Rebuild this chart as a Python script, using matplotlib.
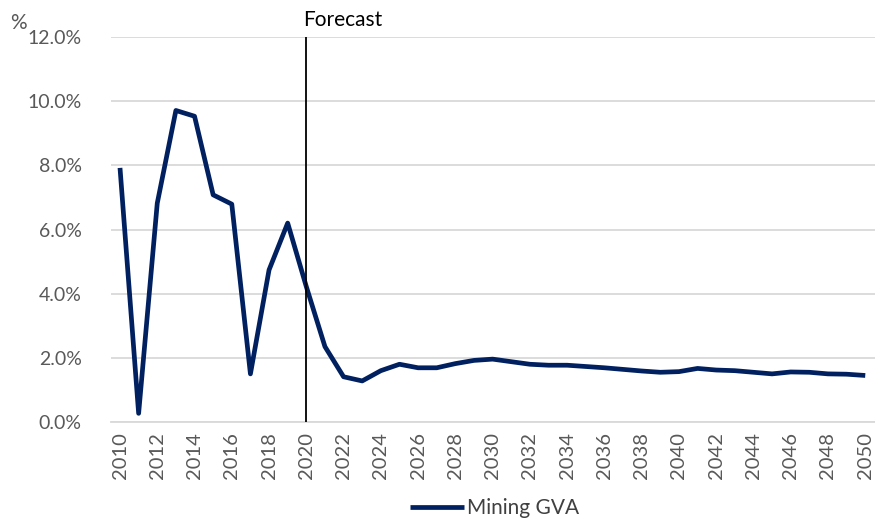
import matplotlib
matplotlib.use("Agg")
import matplotlib.pyplot as plt
from matplotlib.ticker import FuncFormatter

plt.rcParams['font.family'] = ['Lato', 'DejaVu Sans']

years = list(range(2010, 2051))
mining_gva = [7.92, 0.27, 6.82, 9.71, 9.53, 7.08, 6.79, 1.50, 4.74, 6.20,
              4.22, 2.35, 1.41, 1.28, 1.60, 1.80, 1.69, 1.69, 1.82, 1.92,
              1.96, 1.88, 1.80, 1.77, 1.77, 1.73, 1.69, 1.64, 1.59, 1.55,
              1.57, 1.67, 1.62, 1.60, 1.55, 1.50, 1.56, 1.55, 1.50, 1.49,
              1.45]
yticks = [0, 2, 4, 6, 8, 10, 12]
xtick_years = list(range(2010, 2051, 2))
forecast_start = 2020

fig = plt.figure(figsize=(8.75, 5.21), dpi=100)
ax = fig.add_axes([0.1265, 0.19, 0.873, 0.739])

ax.plot(years, mining_gva, color='#002060', lw=3.4, solid_joinstyle='round',
        solid_capstyle='butt', label='Mining GVA', zorder=3)
ax.axvline(forecast_start, color='black', lw=1.3, zorder=4)

ax.set_xlim(2009.5, 2050.5)
ax.set_ylim(0, 12)
ax.set_yticks(yticks)
ax.yaxis.set_major_formatter(FuncFormatter(lambda v, p: f"{v:.1f}%"))
ax.set_xticks(xtick_years)
ax.set_xticklabels([str(y) for y in xtick_years], rotation=90)

ax.grid(axis='y', color='#d9d9d9', lw=1.3, zorder=0)
ax.set_axisbelow(True)
for s in ['top', 'right', 'left']:
    ax.spines[s].set_visible(False)
ax.spines['bottom'].set_color('#d9d9d9')
ax.spines['bottom'].set_linewidth(1.3)
ax.tick_params(axis='y', length=0, labelsize=14, colors='#595959', pad=21)
ax.tick_params(axis='x', length=0, labelsize=14.5, colors='#595959', pad=7)

ax.text(forecast_start - 0.15, 12.22, 'Forecast', fontsize=15, color='black',
        ha='left', va='bottom')
fig.text(0.012, 0.955, '%', fontsize=15, color='#595959', ha='left', va='center')

fig.legend(loc='center', bbox_to_anchor=(0.565, 0.025), frameon=False,
           fontsize=15, handlelength=2.6, handletextpad=0.15,
           labelcolor='#404040')

fig.savefig('out.png', dpi=100)
